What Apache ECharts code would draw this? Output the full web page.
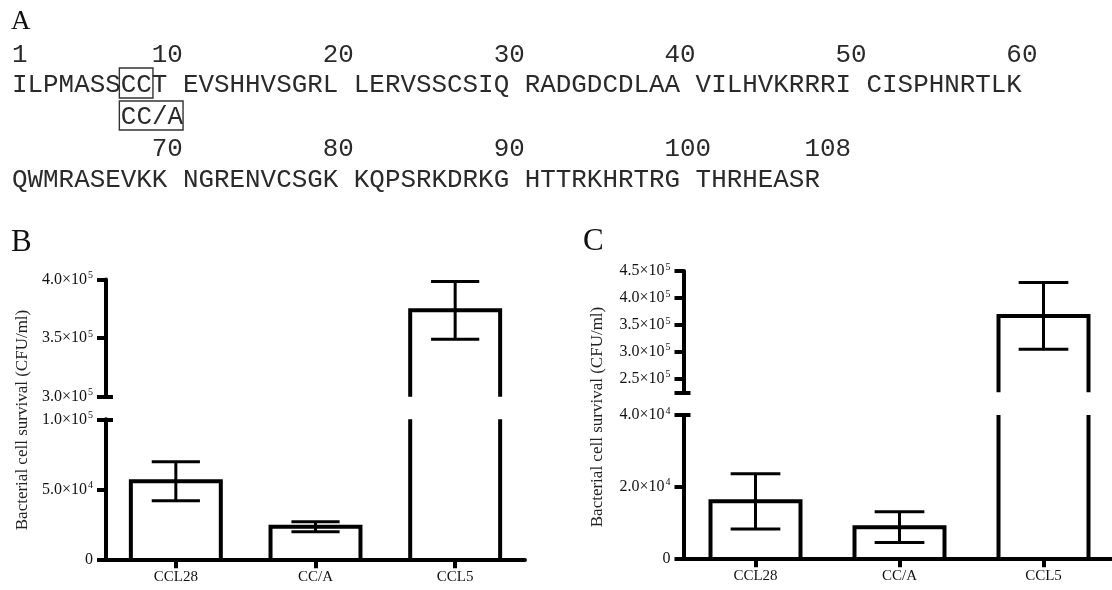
<!DOCTYPE html>
<html><head><meta charset="utf-8">
<script src="https://cdn.jsdelivr.net/npm/echarts@6/dist/echarts.min.js"></script>
<style>html,body{margin:0;padding:0;background:#fff}#c{width:1112px;height:590px}</style>
</head><body><div id="c"></div>
<script>
// ---------------- data ----------------
const categories = ['CCL28', 'CC/A', 'CCL5'];
const meanB = [55700, 23300, 373700];
const errB  = [13900, 3600, 24600];
const meanC = [15900, 8700, 366700];
const errC  = [7700, 4300, 62000];

const rangeBUpper = [300000, 400000];
const rangeBLower = [0, 100000];
const rangeCUpper = [225000, 450000];
const rangeCLower = [0, 40000];
const ticksBUpper = [300000, 350000, 400000];
const ticksBLower = [0, 50000, 100000];
const ticksCUpper = [250000, 300000, 350000, 400000, 450000];
const ticksCLower = [0, 20000, 40000];

const seqRow1 = ['ILPMASSCCT', 'EVSHHVSGRL', 'LERVSSCSIQ', 'RADGDCDLAA', 'VILHVKRRRI', 'CISPHNRTLK'];
const seqRow2 = ['QWMRASEVKK', 'NGRENVCSGK', 'KQPSRKDRKG', 'HTTRKHRTRG', 'THRHEASR'];
const numRow1 = [1, 10, 20, 30, 40, 50, 60];
const numRow2 = [70, 80, 90, 100, 108];
const mutantLabel = 'CC/A';
const yTitle = 'Bacterial cell survival (CFU/ml)';

// ---------------- helpers ----------------
const SERIF = '"Liberation Serif", "Times New Roman", serif';
const MONO = '"Liberation Mono", "Courier New", monospace';
const INK = '#000';

function numLine(nums, start) {
  let s = '';
  nums.forEach(n => {
    const off = n - start;
    const col = off + Math.floor(off / 10);
    while (s.length < col) s += ' ';
    s += String(n);
  });
  return s;
}
function sci(v) {
  if (v === 0) return '0';
  const e = Math.floor(Math.log10(v) + 1e-9);
  const m = (v / Math.pow(10, e)).toFixed(1);
  return '{m|' + m + '×10}{s|' + e + '}';
}
const labelRich = {
  m: {fontFamily: SERIF, fontSize: 16, lineHeight: 18, color: '#111'},
  s: {fontFamily: SERIF, fontSize: 10, lineHeight: 10, verticalAlign: 'top', color: '#111', padding: [0, 0, 0, 1]}
};

function mainY(grid, range, ticks, labels) {
  return {
    gridIndex: grid, type: 'value', position: 'left', min: range[0], max: range[1],
    axisLine: {show: true, lineStyle: {color: INK, width: 4}},
    axisTick: {show: true, length: 9, customValues: ticks, lineStyle: {color: INK, width: 4}},
    axisLabel: {show: true, customValues: labels, formatter: sci, rich: labelRich, margin: 13,
      fontFamily: SERIF, fontSize: 16, color: '#111'},
    splitLine: {show: false}
  };
}
function breakY(grid, range, at) {
  return {
    gridIndex: grid, type: 'value', position: 'left', min: range[0], max: range[1],
    axisLine: {show: false},
    axisTick: {show: true, inside: true, length: 7, customValues: [at], lineStyle: {color: INK, width: 4}},
    axisLabel: {show: false}, splitLine: {show: false}
  };
}
function xAxisFor(grid, visible) {
  return {
    gridIndex: grid, type: 'category', data: categories, show: visible,
    axisLine: {show: true, lineStyle: {color: INK, width: 4}},
    axisTick: {show: true, alignWithLabel: true, length: 9, lineStyle: {color: INK, width: 4}},
    axisLabel: {fontFamily: SERIF, fontSize: 15, color: '#111', margin: 10},
    splitLine: {show: false}
  };
}
function barRender(ratio) {
  return function (params, api) {
    const i = api.value(0), v = api.value(1);
    const band = api.size([1, 0])[0];
    const bw = band * ratio;
    const p0 = api.coord([i, 0]);
    const p1 = api.coord([i, v]);
    const xl = p0[0] - bw / 2, xr = p0[0] + bw / 2;
    return {
      type: 'polyline',
      shape: {points: [[xl, p0[1]], [xl, p1[1]], [xr, p1[1]], [xr, p0[1]]]},
      style: {stroke: INK, fill: null, lineWidth: 4, lineJoin: 'miter'}
    };
  };
}
function errRender(ratio) {
  return function (params, api) {
    const i = api.value(0), v = api.value(1), e = api.value(2);
    const band = api.size([1, 0])[0];
    const cw = band * ratio;
    const pt = api.coord([i, v + e]);
    const pb = api.coord([i, v - e]);
    const x = pt[0];
    const st = {stroke: INK, lineWidth: 3};
    return {type: 'group', children: [
      {type: 'line', shape: {x1: x, y1: pt[1], x2: x, y2: pb[1]}, style: st},
      {type: 'line', shape: {x1: x - cw / 2, y1: pt[1], x2: x + cw / 2, y2: pt[1]}, style: st},
      {type: 'line', shape: {x1: x - cw / 2, y1: pb[1], x2: x + cw / 2, y2: pb[1]}, style: st}
    ]};
  };
}
function seriesFor(grid, yIdx, mean, err, barRatio) {
  const data = categories.map((c, i) => [i, mean[i], err[i]]);
  return [
    {type: 'custom', xAxisIndex: grid, yAxisIndex: yIdx, clip: true, data: data,
      encode: {x: 0, y: 1}, renderItem: barRender(barRatio), silent: true},
    {type: 'custom', xAxisIndex: grid, yAxisIndex: yIdx, clip: true, data: data,
      encode: {x: 0, y: 1}, renderItem: errRender(0.345), silent: true}
  ];
}

// ---------------- sequence graphics ----------------
const CW = 15.55, X0 = 12;
const graphics = [];
function txt(x, y, text, size, family, fill) {
  graphics.push({type: 'text', x: x, y: y,
    style: {text: text, fontSize: size, fontFamily: family, fill: fill || '#2a2a2a', align: 'left', verticalAlign: 'middle'}});
}
txt(11, 22, 'A', 27, SERIF, '#111');
txt(X0, 55, numLine(numRow1, 1), 25.9, MONO);
txt(X0, 85.5, seqRow1.join(' '), 25.9, MONO);
txt(X0 + 7 * CW, 117, mutantLabel, 25.9, MONO);
txt(X0, 149, numLine(numRow2, 61), 25.9, MONO);
txt(X0, 180, seqRow2.join(' '), 25.9, MONO);
graphics.push({type: 'rect', shape: {x: X0 + 7 * CW - 1.5, y: 68, width: 2 * CW + 2.5, height: 30},
  style: {fill: null, stroke: '#333', lineWidth: 1.4}});
graphics.push({type: 'rect', shape: {x: X0 + 7 * CW - 1.5, y: 101, width: 4 * CW + 1.5, height: 29},
  style: {fill: null, stroke: '#333', lineWidth: 1.4}});
txt(11, 243, 'B', 31, SERIF, '#111');
txt(583, 242, 'C', 31, SERIF, '#111');
graphics.push({type: 'text', x: 23, y: 420, rotation: Math.PI / 2,
  style: {text: yTitle, fontSize: 17, fontFamily: SERIF, fill: '#222', align: 'center', verticalAlign: 'middle'}});
graphics.push({type: 'text', x: 598, y: 417, rotation: Math.PI / 2,
  style: {text: yTitle, fontSize: 17, fontFamily: SERIF, fill: '#222', align: 'center', verticalAlign: 'middle'}});

// ---------------- chart ----------------
const chart = echarts.init(document.getElementById('c'), null, {renderer: 'canvas'});
chart.setOption({
  animation: false,
  backgroundColor: '#fff',
  grid: [
    {left: 106, top: 279.5, width: 419, height: 117.2, outerBoundsMode: 'none'},
    {left: 106, top: 419.3, width: 419, height: 140, outerBoundsMode: 'none'},
    {left: 683.5, top: 271, width: 432, height: 121.3, outerBoundsMode: 'none'},
    {left: 683.5, top: 415, width: 432, height: 143.3, outerBoundsMode: 'none'}
  ],
  xAxis: [xAxisFor(0, false), xAxisFor(1, true), xAxisFor(2, false), xAxisFor(3, true)],
  yAxis: [
    mainY(0, rangeBUpper, ticksBUpper, ticksBUpper),
    mainY(1, rangeBLower, ticksBLower, ticksBLower),
    mainY(2, rangeCUpper, [rangeCUpper[0]].concat(ticksCUpper), ticksCUpper),
    mainY(3, rangeCLower, ticksCLower, ticksCLower),
    breakY(0, rangeBUpper, rangeBUpper[0]),
    breakY(1, rangeBLower, rangeBLower[1]),
    breakY(2, rangeCUpper, rangeCUpper[0]),
    breakY(3, rangeCLower, rangeCLower[1])
  ],
  series: [].concat(
    seriesFor(0, 0, meanB, errB, 0.644),
    seriesFor(1, 1, meanB, errB, 0.644),
    seriesFor(2, 2, meanC, errC, 0.625),
    seriesFor(3, 3, meanC, errC, 0.625)
  ),
  graphic: graphics
});
</script>
</body></html>
